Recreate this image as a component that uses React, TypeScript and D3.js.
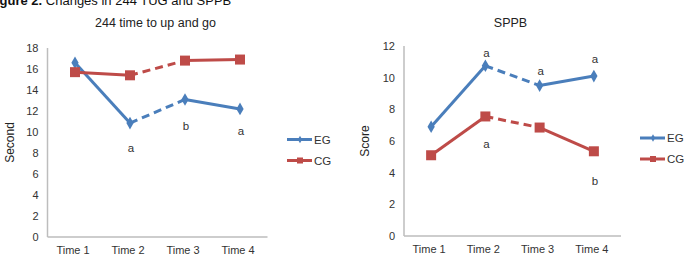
import React from 'react';
import * as d3 from 'd3';

const times = ['Time 1', 'Time 2', 'Time 3', 'Time 4'];

const tugEG = [16.6, 10.85, 13.1, 12.2];
const tugCG = [15.7, 15.4, 16.8, 16.9];
const tugTicks = [0, 2, 4, 6, 8, 10, 12, 14, 16, 18];

const sppbEG = [6.9, 10.75, 9.5, 10.1];
const sppbCG = [5.1, 7.55, 6.85, 5.35];
const sppbTicks = [0, 2, 4, 6, 8, 10, 12];

// significance letters: [time index, value position, letter]
const tugNotes: [number, number, string][] = [
  [1, 8.5, 'a'],
  [2, 10.6, 'b'],
  [3, 10.1, 'a'],
];
const sppbNotes: [number, number, string][] = [
  [1, 11.55, 'a'],
  [2, 10.4, 'a'],
  [3, 11.2, 'a'],
  [1, 5.8, 'a'],
  [3, 3.45, 'b'],
];

const BLUE = '#4a7ebb';
const RED = '#be4b48';
const FONT = '"Liberation Sans", Arial, sans-serif';

interface PanelProps {
  title: string;
  yLabel: string;
  eg: number[];
  cg: number[];
  ticks: number[];
  notes: [number, number, string][];
  left: number;
  right: number;
  top: number;
  bottom: number;
  yLabelX: number;
  legendX: number;
  noteDx?: number[];
}

const diamond = d3.symbol().type(d3.symbolDiamond).size(46)() || '';

const Series: React.FC<{ vals: number[]; x: d3.ScaleBand<string>; y: d3.ScaleLinear<number, number>; color: string; square: boolean }> = ({ vals, x, y, color, square }) => {
  const cx = (i: number) => (x(times[i]) || 0) + x.bandwidth() / 2;
  return (
    <g>
      {vals.slice(1).map((v, k) => (
        <line
          key={k}
          x1={cx(k)}
          y1={y(vals[k])}
          x2={cx(k + 1)}
          y2={y(v)}
          stroke={color}
          strokeWidth={3}
          strokeDasharray={k === 1 ? '8 5' : undefined}
        />
      ))}
      {vals.map((v, i) =>
        square ? (
          <rect key={i} x={cx(i) - 5} y={y(v) - 5} width={10} height={10} fill={color} />
        ) : (
          <path key={i} d={diamond} transform={`translate(${cx(i)},${y(v)})`} fill={color} />
        )
      )}
    </g>
  );
};

const Panel: React.FC<PanelProps> = (p) => {
  const x = d3.scaleBand<string>().domain(times).range([p.left, p.right]);
  const y = d3.scaleLinear().domain([0, p.ticks[p.ticks.length - 1]]).range([p.bottom, p.top]);
  const cx = (i: number) => (x(times[i]) || 0) + x.bandwidth() / 2;
  const midY = (p.top + p.bottom) / 2;
  return (
    <g fontFamily={FONT}>
      <text x={(p.left + p.right) / 2 - 2} y={27} textAnchor="middle" fontSize={12.5} fill="#222">
        {p.title}
      </text>
      <line x1={p.left} x2={p.left} y1={p.top} y2={p.bottom} stroke="#bdbdbd" strokeWidth={1.5} />
      <line x1={p.left} x2={p.right} y1={p.bottom} y2={p.bottom} stroke="#bdbdbd" strokeWidth={1.5} />
      {p.ticks.map((t) => (
        <text key={t} x={p.left - 9} y={y(t)} dy="0.35em" textAnchor="end" fontSize={11} fill="#333">
          {t}
        </text>
      ))}
      {times.map((t, i) => (
        <text key={t} x={cx(i) - 2} y={p.bottom + 17} textAnchor="middle" fontSize={11} fill="#333">
          {t}
        </text>
      ))}
      <text
        transform={`translate(${p.yLabelX},${midY}) rotate(-90)`}
        textAnchor="middle"
        fontSize={12}
        fill="#222"
      >
        {p.yLabel}
      </text>
      <Series vals={p.eg} x={x} y={y} color={BLUE} square={false} />
      <Series vals={p.cg} x={x} y={y} color={RED} square={true} />
      {p.notes.map(([i, v, s], k) => (
        <text key={k} x={cx(i) + 1} y={y(v)} dy="0.35em" textAnchor="middle" fontSize={11.5} fill="#333">
          {s}
        </text>
      ))}
      {[
        ['EG', BLUE, false],
        ['CG', RED, true],
      ].map(([name, color, sq], k) => {
        const ly = midY - 3 + k * 21;
        const lx = p.legendX;
        return (
          <g key={k}>
            <line x1={lx} x2={lx + 25} y1={ly} y2={ly} stroke={color as string} strokeWidth={3} />
            {sq ? (
              <rect x={lx + 10} y={ly - 3} width={6} height={6} fill={color as string} />
            ) : (
              <path d={d3.symbol().type(d3.symbolDiamond).size(16)() || ''} transform={`translate(${lx + 13},${ly})`} fill={color as string} />
            )}
            <text x={lx + 27} y={ly} dy="0.35em" fontSize={11.5} fill="#333">
              {name as string}
            </text>
          </g>
        );
      })}
    </g>
  );
};

export default function App() {
  return (
    <svg width={694} height={259} style={{ position: 'absolute', left: 0, top: 0, background: '#fff' }}>
      <text x={-12} y={5} fontFamily={FONT} fontSize={13} fill="#111">
        <tspan fontWeight="bold">Figure 2.</tspan> Changes in 244 TUG and SPPB
      </text>
      <Panel
        title="244 time to up and go"
        yLabel="Second"
        eg={tugEG}
        cg={tugCG}
        ticks={tugTicks}
        notes={tugNotes}
        left={47.5}
        right={267.5}
        top={48}
        bottom={237}
        yLabelX={14}
        legendX={287}
      />
      <Panel
        title="SPPB"
        yLabel="Score"
        eg={sppbEG}
        cg={sppbCG}
        ticks={sppbTicks}
        notes={sppbNotes}
        left={404}
        right={621}
        top={46}
        bottom={236}
        yLabelX={369}
        legendX={640}
      />
    </svg>
  );
}
